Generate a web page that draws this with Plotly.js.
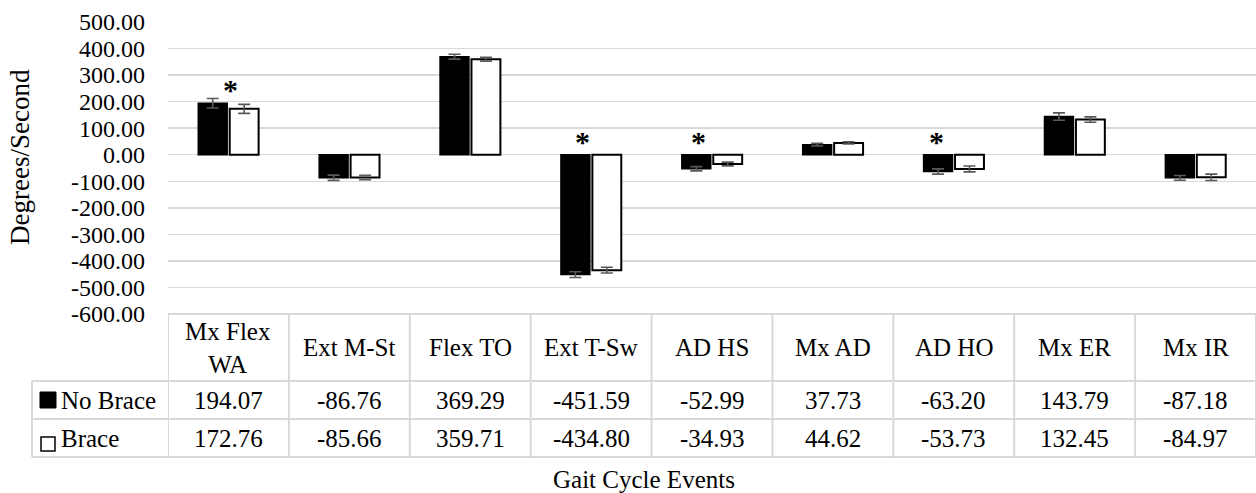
<!DOCTYPE html>
<html>
<head>
<meta charset="utf-8">
<script src="https://cdn.plot.ly/plotly-3.0.1.min.js"></script>
<style>html,body{margin:0;padding:0;background:#fff;}#chart{width:1256px;height:493px;}</style>
</head>
<body>
<div id="chart"></div>
<script>
// ---- data ----
const categories = ['Mx Flex WA', 'Ext M-St', 'Flex TO', 'Ext T-Sw', 'AD HS', 'Mx AD', 'AD HO', 'Mx ER', 'Mx IR'];
const headerLabels = ['Mx Flex<br>WA', 'Ext M-St', 'Flex TO', 'Ext T-Sw', 'AD HS', 'Mx AD', 'AD HO', 'Mx ER', 'Mx IR'];
const noBrace = [194.07, -86.76, 369.29, -451.59, -52.99, 37.73, -63.20, 143.79, -87.18];
const brace = [172.76, -85.66, 359.71, -434.80, -34.93, 44.62, -53.73, 132.45, -84.97];
const noBraceErr = [18, 10, 9, 11, 8, 5, 10, 14, 9];
const braceErr = [17, 8, 7, 11, 7, 4, 11, 10, 12];
const seriesNames = ['No Brace', 'Brace'];
const sigCategories = ['Mx Flex WA', 'Ext T-Sw', 'AD HS', 'AD HO'];
const sigLevels = [262, 66, 66, 66];
const sigShift = [2, -9, -14, -17];
const yTicks = [500, 400, 300, 200, 100, 0, -100, -200, -300, -400, -500, -600];

// ---- geometry helpers (pixels -> paper) ----
const W = 1256, H = 493, ML = 168, MR = 0, MT = 22, MB = 179;
const PW = W - ML - MR, PH = H - MT - MB;
const px = x => (x - ML) / PW;
const py = y => (H - MB - y) / PH;

const FONT = 'Liberation Serif';
const GRID = '#d9d9d9';

const traces = [
  {
    type: 'bar', name: seriesNames[0], x: categories, y: noBrace,
    marker: {color: '#000000', line: {color: '#000000', width: 1.5}},
    error_y: {type: 'data', array: noBraceErr, visible: true, color: '#595959', thickness: 1.6, width: 6},
    showlegend: false, hoverinfo: 'y'
  },
  {
    type: 'bar', name: seriesNames[1], x: categories, y: brace,
    marker: {color: '#ffffff', line: {color: '#000000', width: 2}},
    error_y: {type: 'data', array: braceErr, visible: true, color: '#595959', thickness: 1.6, width: 6},
    showlegend: false, hoverinfo: 'y'
  }
];

const shapes = [];
const annotations = [];

const rowTop = 314, headBot = 381, row1Bot = 419, row2Bot = 457;
const legendLeft = 32;
const lineStyle = {color: GRID, width: 2};
shapes.push({type: 'line', xref: 'paper', yref: 'paper', x0: 0, x1: 1, y0: py(rowTop), y1: py(rowTop), line: lineStyle});
[headBot, row1Bot, row2Bot].forEach(yy => {
  shapes.push({type: 'line', xref: 'paper', yref: 'paper', x0: px(legendLeft), x1: 1, y0: py(yy), y1: py(yy), line: lineStyle});
});
for (let i = 0; i <= categories.length; i++) {
  shapes.push({type: 'line', xref: 'x', yref: 'paper', x0: i - 0.5, x1: i - 0.5, y0: py(rowTop), y1: py(row2Bot), line: lineStyle});
}
shapes.push({type: 'line', xref: 'paper', yref: 'paper', x0: px(legendLeft), x1: px(legendLeft), y0: py(headBot), y1: py(row2Bot), line: lineStyle});

// legend keys
shapes.push({type: 'rect', xref: 'paper', yref: 'paper', x0: px(40), x1: px(56), y0: py(408), y1: py(392), fillcolor: '#000000', line: {color: '#000000', width: 1}});
shapes.push({type: 'rect', xref: 'paper', yref: 'paper', x0: px(41), x1: px(55), y0: py(451), y1: py(437), fillcolor: '#ffffff', line: {color: '#000000', width: 1.5}});

const mkFont = (size, weight) => ({family: FONT, size: size, color: '#000000', weight: weight || 'normal'});
annotations.push({xref: 'paper', yref: 'paper', x: px(59), y: py((headBot + row1Bot) / 2), text: seriesNames[0], showarrow: false, xanchor: 'left', yanchor: 'middle', font: mkFont(25)});
annotations.push({xref: 'paper', yref: 'paper', x: px(59), y: py((row1Bot + row2Bot) / 2), text: seriesNames[1], showarrow: false, xanchor: 'left', yanchor: 'middle', font: mkFont(25)});

categories.forEach((c, i) => {
  annotations.push({xref: 'x', yref: 'paper', x: c, y: py((rowTop + headBot) / 2), text: headerLabels[i], showarrow: false, xanchor: 'center', yanchor: 'middle', font: mkFont(25)});
  annotations.push({xref: 'x', yref: 'paper', x: c, y: py((headBot + row1Bot) / 2), text: noBrace[i].toFixed(2), showarrow: false, xanchor: 'center', yanchor: 'middle', font: mkFont(25)});
  annotations.push({xref: 'x', yref: 'paper', x: c, y: py((row1Bot + row2Bot) / 2), text: brace[i].toFixed(2), showarrow: false, xanchor: 'center', yanchor: 'middle', font: mkFont(25)});
});

sigCategories.forEach((c, k) => {
  annotations.push({xref: 'x', yref: 'y', x: c, y: sigLevels[k], xshift: sigShift[k], yshift: -4, text: '*', showarrow: false, xanchor: 'center', yanchor: 'middle', font: mkFont(30, 'bold')});
});

annotations.push({xref: 'paper', yref: 'paper', x: px(20), y: py(157), text: 'Degrees/Second', textangle: -90, showarrow: false, xanchor: 'center', yanchor: 'middle', font: mkFont(27)});
annotations.push({xref: 'paper', yref: 'paper', x: px(644), y: py(479), text: 'Gait Cycle Events', showarrow: false, xanchor: 'center', yanchor: 'middle', font: mkFont(25)});

const layout = {
  width: W, height: H,
  margin: {l: ML, r: MR, t: MT, b: MB, pad: 0},
  paper_bgcolor: '#ffffff', plot_bgcolor: '#ffffff',
  barmode: 'group', bargap: 0.48, bargroupgap: 0.08,
  showlegend: false,
  font: {family: FONT, size: 24, color: '#000000'},
  xaxis: {type: 'category', categoryorder: 'array', categoryarray: categories, range: [-0.5, categories.length - 0.5], showticklabels: false, showgrid: false, zeroline: false, showline: false, ticks: ''},
  yaxis: {range: [-600, 500], tickvals: yTicks, ticktext: yTicks.map(v => v.toFixed(2)), showgrid: true, gridcolor: GRID, gridwidth: 1.5, zeroline: false, showline: false, ticks: '', ticklabelstandoff: 22, tickfont: mkFont(24)},
  shapes: shapes,
  annotations: annotations
};

Plotly.newPlot('chart', traces, layout, {displayModeBar: false, staticPlot: true});
</script>
</body>
</html>
